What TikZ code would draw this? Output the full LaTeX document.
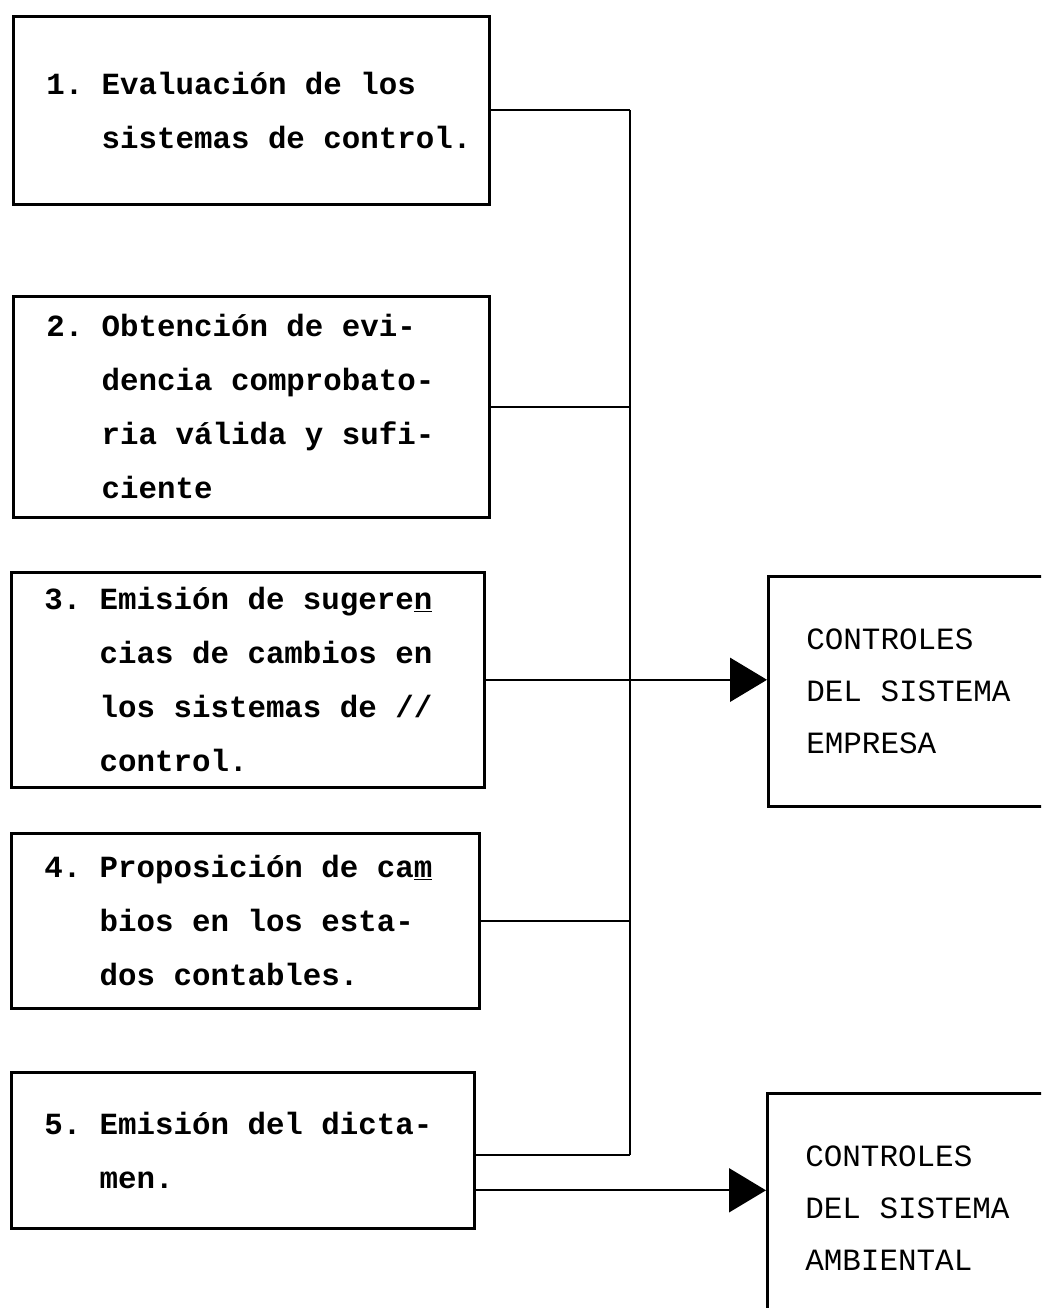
\documentclass[tikz,border=0pt]{standalone}
\usepackage{fontspec}
\setmonofont{Liberation Mono}
\usetikzlibrary{arrows.meta}
\frenchspacing

% sangria de las lineas de cada tarea
\newcommand{\primera}{\spaceskip=0pt\xspaceskip=0pt\hspace*{0.575cm}}
\newcommand{\sigue}{\hspace*{0.575cm}\hspace*{1.8em}}

\begin{document}
\begin{tikzpicture}[x=0.025cm,y=-0.025cm,
		tarea/.style 2 args={draw,line width=1.8pt,anchor=north west,inner xsep=0.25cm,inner ysep=0pt,
			text width=#1,minimum height=#2,align=flush left,
			font=\ttfamily\bfseries\fontsize{21.9}{38.4}\selectfont},
		destino/.style={draw,line width=1.8pt,anchor=north west,minimum width=8.25cm,minimum height=5.75cm,
			inner xsep=0.95cm,text width=6.35cm,align=flush left,
			font=\ttfamily\fontsize{22}{37}\selectfont},
		enlace/.style={line width=1.3pt},
		flecha/.style={enlace,-{Triangle[length=0.925cm,width=1.1cm]}}]
	\useasboundingbox (0,0) rectangle (1041,1308);
	\clip (0,0) rectangle (1041,1308);

	% tareas de la auditoria
	\node[tarea={11.4cm}{4.7cm}] (t1) at (12,15) {\primera 1.~Evaluación de los\\\sigue sistemas de control.};
	\node[tarea={11.4cm}{5.525cm}] (t2) at (12,295) {\primera 2.~Obtención de evi-\\\sigue dencia comprobato-\\\sigue ria válida y sufi-\\\sigue ciente};
	\node[tarea={11.325cm}{5.375cm}] (t3) at (10,571) {\primera 3.~Emisión de sugere\underline{n}\\\sigue cias de cambios en\\\sigue los sistemas de //\\\sigue control.};
	\node[tarea={11.2cm}{4.375cm}] (t4) at (10,832) {\primera 4.~Proposición de ca\underline{m}\\\sigue bios en los esta-\\\sigue dos contables.};
	\node[tarea={11.075cm}{3.9cm}] (t5) at (10,1071) {\primera 5.~Emisión del dicta-\\\sigue men.};

	% controles
	\node[destino] (empresa) at (767,575) {\spaceskip=0pt CONTROLES\\DEL SISTEMA\\EMPRESA};
	\node[destino] (ambiente) at (766,1092) {\spaceskip=0pt CONTROLES\\DEL SISTEMA\\AMBIENTAL};

	\coordinate (eje) at (630,0);
	\coordinate (t5a) at ([yshift=-0.125cm]t5.east);
	\coordinate (t5b) at ([yshift=-1cm]t5.east);

	\draw[enlace] (t1.east) -- (t1.east -| eje);
	\draw[line width=1.8pt] (t1.east -| eje) -- (t5a -| eje);
	\draw[enlace] (t2.east) -- (t2.east -| eje);
	\draw[enlace] (t4.east) -- (t4.east -| eje);
	\draw[enlace] (t5a) -- (t5a -| eje);
	\draw[flecha] (t3.east) -- (t3.east -| empresa.west);
	\draw[flecha] (t5b) -- (t5b -| ambiente.west);
\end{tikzpicture}
\end{document}
